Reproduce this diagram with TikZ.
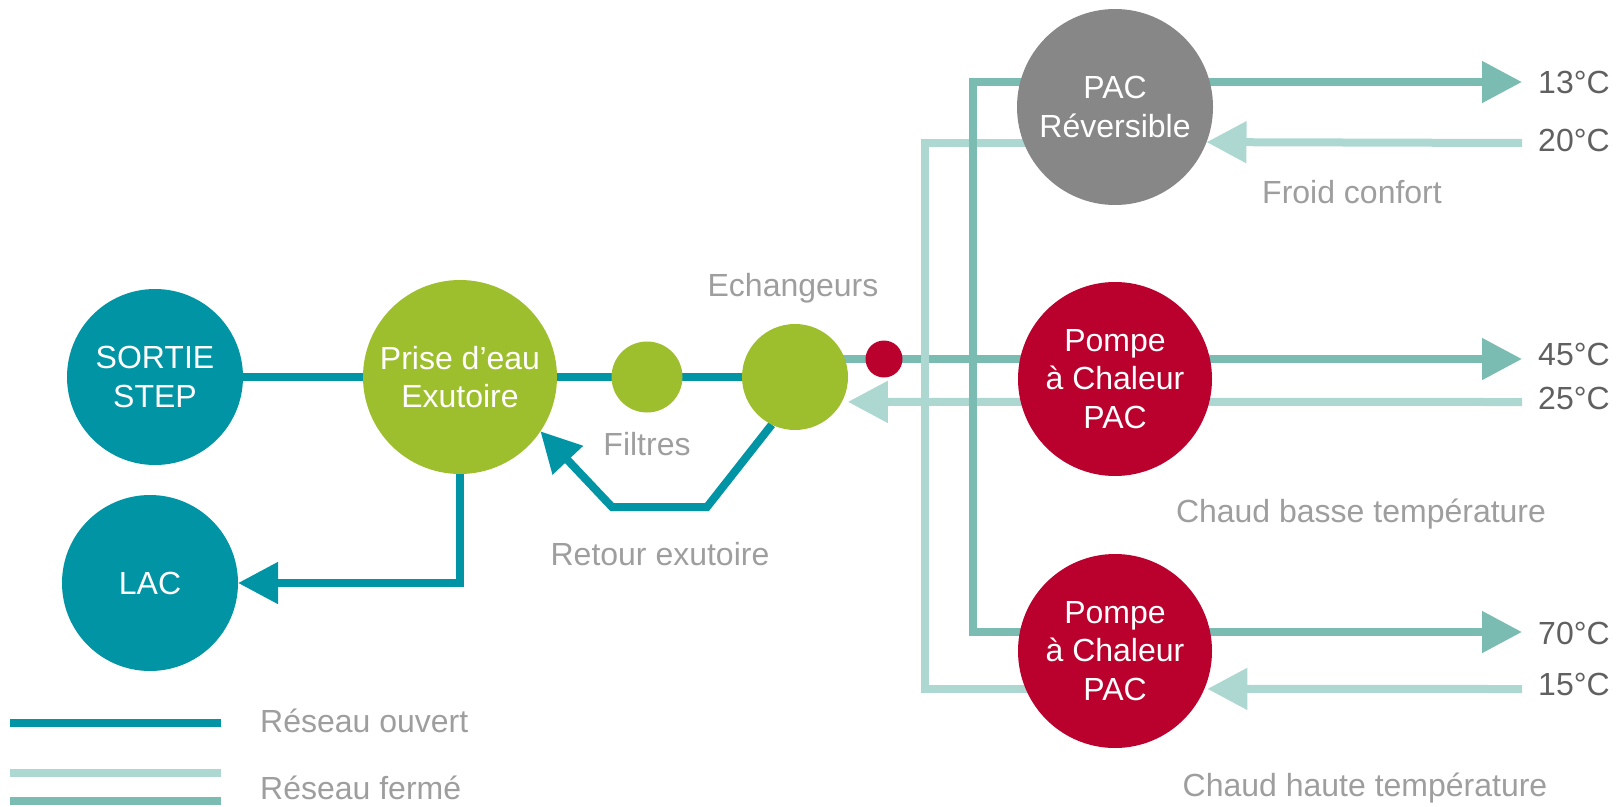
\documentclass[tikz,border=0pt]{standalone}
\usepackage{fontspec}
\setmainfont{Liberation Sans}
\usetikzlibrary{arrows.meta,calc}
\definecolor{opennet}{RGB}{0,148,164}
\definecolor{closeddark}{RGB}{122,188,178}
\definecolor{closedlight}{RGB}{173,216,210}
\definecolor{leaf}{RGB}{157,191,46}
\definecolor{crimson}{RGB}{186,0,44}
\definecolor{stone}{RGB}{135,135,135}
\definecolor{labelgray}{RGB}{158,158,158}
\definecolor{tempgray}{RGB}{96,96,96}
\pgfdeclarelayer{bg}
\pgfsetlayers{bg,main}
\begin{document}
\begin{tikzpicture}[x=1pt,y=1pt,
  every node/.style={font=\fontsize{32}{38.5}\selectfont},
  disc/.style={circle, inner sep=0pt, outer sep=0pt, align=center, text=white},
  pipe/.style={line width=8pt},
  opn/.style={pipe, draw=opennet},
  cdark/.style={pipe, draw=closeddark},
  clight/.style={pipe, draw=closedlight},
  head/.style={-{Triangle[length=40pt,width=40pt]}},
  twoheads/.style={{Triangle[length=40pt,width=40pt]}-{Triangle[length=40pt,width=40pt]}},
  lbl/.style={text=labelgray, anchor=base},
  legtext/.style={text=labelgray, anchor=base west, inner sep=0pt},
  temp/.style={text=tempgray, anchor=base west, inner sep=0pt},
]
\useasboundingbox (0,0) rectangle (1624,-806);

% circles
\node[disc, fill=opennet, minimum size=176pt] (sortie) at (155,-377) {SORTIE\\STEP};
\node[disc, fill=opennet, minimum size=176pt] (lac) at (150,-583) {LAC};
\node[disc, fill=leaf, minimum size=194pt] (prise) at (460,-377) {Prise d’eau\\Exutoire};
\node[disc, fill=leaf, minimum size=71pt] (filt) at (647,-377) {};
\node[disc, fill=leaf, minimum size=106pt] (ech) at (795,-377) {};
\node[disc, fill=crimson, minimum size=37pt] (dot) at (884,-359) {};
\node[disc, fill=stone, minimum size=196pt] (pacrev) at (1115,-107) {PAC\\Réversible};
\node[disc, fill=crimson, minimum size=194pt] (pac1) at (1115,-379) {Pompe\\à Chaleur\\PAC};
\node[disc, fill=crimson, minimum size=194pt] (pac2) at (1115,-651) {Pompe\\à Chaleur\\PAC};

% coordinates
\coordinate (t13) at (1522,-82);
\coordinate (t20) at (1522,-143);
\coordinate (t45) at (1522,-359);
\coordinate (t25) at (1522,-402);
\coordinate (t70) at (1522,-632);
\coordinate (t15) at (1522,-689);
\coordinate (dtop) at (973,-82);
\coordinate (dbot) at (973,-632);
\coordinate (ltop) at (925,-143);
\coordinate (lbot) at (925,-689);
\coordinate (r1) at (707,-507);
\coordinate (r2) at (612,-507);
\coordinate (lga) at (10,-723);
\coordinate (lgb) at (221,-723);
\coordinate (lgc) at (10,-773);
\coordinate (lgd) at (221,-773);
\coordinate (lge) at (10,-801);
\coordinate (lgf) at (221,-801);

\begin{pgfonlayer}{bg}
  % open network
  \draw[opn] (sortie.center) -- (prise.center) -- (filt.center) -- (ech.center);
  \draw[opn, head] (prise.center) |- (lac.east);
  \draw[opn, head] (ech.244) -- (r1) -- (r2) -- (prise.-34);
  % closed network
  \draw[cdark, head] (ech.center |- dot.center) -- (t45);
  \draw[clight] (pacrev.center |- ltop) -- (ltop) -- (lbot) -- (pac2.center |- lbot);
  \draw[clight, head] (t20) -- (pacrev.-21.5);
  \draw[clight, head] (t15) -- ([xshift=3pt]pac2.-23);
  \draw[clight, head] (t25) -- ([xshift=6pt]ech.-28);
  \draw[cdark, twoheads] (t13) -- (dtop) -- (dbot) -- (t70);
\end{pgfonlayer}

% legend
\draw[opn] (lga) -- (lgb);
\draw[clight] (lgc) -- (lgd);
\draw[cdark] (lge) -- (lgf);
\node[legtext] (lgo) at (260,-732) {Réseau ouvert};
\node[legtext] (lgfe) at (260,-799) {Réseau fermé};

% labels
\node[lbl] (echl) at (793,-296) {Echangeurs};
\node[lbl] (filtl) at (647,-455) {Filtres};
\node[lbl] (retl) at (660,-565) {Retour exutoire};
\node[lbl] (froid) at (1352,-203) {Froid confort};
\node[lbl] (cbt) at (1361,-522) {Chaud basse température};
\node[lbl] (cht) at (1365,-796) {Chaud haute température};

% temperatures
\node[temp] (v13) at (1538,-93) {13°C};
\node[temp] (v20) at (1538,-151) {20°C};
\node[temp] (v45) at (1538,-365) {45°C};
\node[temp] (v25) at (1538,-409) {25°C};
\node[temp] (v70) at (1538,-644) {70°C};
\node[temp] (v15) at (1538,-695) {15°C};
\end{tikzpicture}
\end{document}
